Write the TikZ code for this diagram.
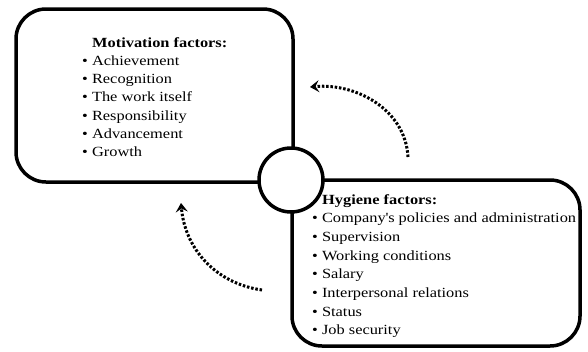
\documentclass[tikz,border=0pt]{standalone}
\usepackage{fontspec}
\setmainfont{Liberation Serif}[FakeStretch=1.17]
\usetikzlibrary{arrows.meta}

\tikzset{
  factorbox/.style={draw, line width=3.5pt, rounded corners=30pt, inner sep=0pt},
  hub/.style={draw, circle, line width=3.5pt, fill=white, minimum size=64pt, inner sep=0pt},
  entry/.style={anchor=base west, inner sep=0pt, font=\fontsize{14}{18}\selectfont},
  heading/.style={entry, font=\fontsize{14}{18}\selectfont\bfseries},
  loopflow/.style={line width=3pt, dash pattern=on 2.5pt off 1.8pt,
    -{Stealth[length=9pt,width=12pt,inset=3.5pt]}}
}

\begin{document}
\begin{tikzpicture}[x=1pt, y=-1pt]
    \useasboundingbox (0,0) rectangle (588,351);

    % Kaesten fuer beide Faktorgruppen
    \node[factorbox, minimum width=277pt, minimum height=173pt] (motiv) at (154.5,95.5) {};
    \node[factorbox, minimum width=288pt, minimum height=166pt] (hygiene) at (436,263) {};

    % Kreis in der Mitte
    \node[hub] (center) at (291,180) {};

    % Motivationsfaktoren
    \node[heading] (mhead) at (92,47) {Motivation factors:};
    \foreach \txt [count=\i] in {Achievement, Recognition, The work itself,
        Responsibility, Advancement, Growth}
        \node[entry] (m\i) at (82,47+18.3*\i) {\textbullet\ \txt};

    % Hygienefaktoren
    \node[heading] (hhead) at (322,204) {Hygiene factors:};
    \foreach \txt [count=\i] in {Company\textquotesingle s policies and administration, Supervision,
        Working conditions, Salary, Interpersonal relations, Status, Job security}
        \node[entry] (h\i) at (312,204+18.7*\i) {\textbullet\ \txt};

    % gepunktete Pfeile
    \coordinate (upstart) at (408,157);
    \coordinate (upend) at (310,87);
    \coordinate (lowstart) at (262,290);
    \coordinate (lowend) at (181,203);
    \draw[loopflow] (upstart) to[out=93, in=5] (upend);
    \draw[loopflow] (lowstart) to[out=172, in=-85] (lowend);
\end{tikzpicture}
\end{document}
